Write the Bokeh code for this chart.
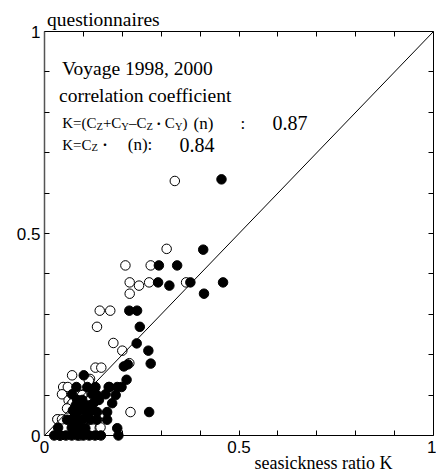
from bokeh.plotting import figure
from bokeh.models import FixedTicker, LinearAxis, Label, Range1d, ColumnDataSource
from bokeh.embed import file_html
from bokeh.resources import INLINE

# ---------------- data ----------------
# open circles: K = (Cz + Cy - Cz*Cy)(n)
open_x = [0.335, 0.314, 0.208, 0.273, 0.219, 0.243, 0.269, 0.364, 0.219,
          0.142, 0.169, 0.135, 0.177, 0.200, 0.131, 0.146, 0.218, 0.071,
          0.117, 0.221, 0.114, 0.048, 0.060, 0.045, 0.100, 0.097, 0.062,
          0.067, 0.080, 0.072, 0.087, 0.100, 0.118, 0.034, 0.080, 0.114,
          0.127, 0.033, 0.045, 0.075, 0.142, 0.144, 0.040, 0.090, 0.058]
open_y = [0.630, 0.462, 0.421, 0.421, 0.379, 0.371, 0.379, 0.379, 0.351,
          0.309, 0.309, 0.269, 0.229, 0.210, 0.168, 0.168, 0.179, 0.149,
          0.140, 0.058, 0.136, 0.120, 0.120, 0.102, 0.102, 0.100, 0.087,
          0.074, 0.070, 0.080, 0.054, 0.060, 0.045, 0.040, 0.040, 0.040,
          0.040, 0.040, 0.040, 0.019, 0.019, 0.020, 0.000, 0.000, 0.067]

# filled circles: K = Cz(n)
fill_x = [0.455, 0.408, 0.294, 0.341, 0.292, 0.321, 0.375, 0.459, 0.410,
          0.218, 0.238, 0.245, 0.237, 0.267, 0.273, 0.269, 0.204, 0.214,
          0.211, 0.101, 0.167, 0.198,
          0.082, 0.110, 0.131, 0.165, 0.187,
          0.071, 0.123, 0.135, 0.157, 0.183,
          0.084, 0.097, 0.126, 0.140, 0.174,
          0.080, 0.093, 0.100, 0.107, 0.112, 0.117,
          0.073, 0.083, 0.090, 0.113, 0.135, 0.161, 0.107, 0.120,
          0.058, 0.071, 0.083, 0.098, 0.118, 0.135, 0.161, 0.110,
          0.035, 0.070, 0.083, 0.105, 0.187, 0.092,
          0.025, 0.040, 0.055, 0.070, 0.085, 0.100, 0.115, 0.130,
          0.145, 0.190]
fill_y = [0.634, 0.460, 0.421, 0.421, 0.379, 0.371, 0.379, 0.379, 0.351,
          0.309, 0.309, 0.269, 0.228, 0.210, 0.178, 0.058, 0.171, 0.176,
          0.138, 0.149, 0.120, 0.120,
          0.120, 0.120, 0.120, 0.120, 0.120,
          0.102, 0.102, 0.100, 0.102, 0.100,
          0.088, 0.088, 0.080, 0.088, 0.080,
          0.074, 0.074, 0.074, 0.074, 0.074, 0.074,
          0.062, 0.062, 0.062, 0.058, 0.058, 0.058, 0.062, 0.062,
          0.039, 0.040, 0.040, 0.040, 0.039, 0.039, 0.039, 0.050,
          0.019, 0.019, 0.019, 0.018, 0.018, 0.019,
          0.000, 0.000, 0.000, 0.000, 0.000, 0.000, 0.000, 0.000,
          0.000, 0.000]

# reference line K(questionnaire) = K(seasickness ratio)
ref_x = [0, 1]
ref_y = [0, 1]

major_ticks = [0, 0.5, 1]
minor_ticks = [0.1, 0.2, 0.3, 0.4, 0.6, 0.7, 0.8, 0.9]
all_ticks = [0.1, 0.2, 0.3, 0.4, 0.5, 0.6, 0.7, 0.8, 0.9]
tick_labels = {0: "0", 0.5: "0.5", 1: "1"}

# ---------------- layout (pixels of the canvas) ----------------
CW, CH = 436, 473              # canvas
FX0, FX1 = 44, 433             # plot box left / right
FY0, FY1 = 31, 435             # plot box top / bottom
SX = FX1 - FX0
SY = FY1 - FY0

def dx(px):
    return (px - FX0) / SX

def dy(py):
    return (FY1 - py) / SY

p = figure(width=CW, height=CH, min_border=0,
           x_range=Range1d(dx(0), dx(CW)), y_range=Range1d(dy(CH), dy(0)),
           output_backend="svg", toolbar_location=None, tools="")
p.grid.visible = False
p.outline_line_color = None
p.background_fill_color = "white"
p.border_fill_color = "white"

def style_axis(ax, loc, labels=True):
    ax.fixed_location = loc
    ax.bounds = (0, 1)
    if labels:
        ax.ticker = FixedTicker(ticks=major_ticks, minor_ticks=minor_ticks)
        ax.major_label_overrides = tick_labels
        ax.major_label_text_font = "Liberation Sans"
        ax.major_label_text_font_size = "17px"
        ax.major_label_text_color = "black"
        ax.major_label_standoff = 4
    else:
        ax.ticker = FixedTicker(ticks=[], minor_ticks=all_ticks)
    ax.major_tick_in = 5
    ax.major_tick_out = 0
    ax.minor_tick_in = 5
    ax.minor_tick_out = 0
    ax.axis_line_color = "black"
    ax.axis_line_width = 1
    ax.major_tick_line_color = "black"
    ax.minor_tick_line_color = "black"

style_axis(p.xaxis[0], 0)
style_axis(p.yaxis[0], 0)
p.xaxis[0].major_label_standoff = 5
p.yaxis[0].axis_line_color = "#555555"
p.yaxis[0].axis_line_width = 1.5
top_ax = LinearAxis()
right_ax = LinearAxis()
style_axis(top_ax, 1, labels=False)
style_axis(right_ax, 1, labels=False)
p.add_layout(top_ax, "above")
p.add_layout(right_ax, "right")

src_open = ColumnDataSource(dict(x=open_x, y=open_y))
src_fill = ColumnDataSource(dict(x=fill_x, y=fill_y))
p.scatter("x", "y", source=src_open, size=9.5, marker="circle",
          fill_color="white", line_color="black", line_width=1)
p.scatter("x", "y", source=src_fill, size=9.5, marker="circle",
          fill_color="black", line_color="black", line_width=1)
p.line(ref_x, ref_y, line_color="black", line_width=1)

# ---------------- texts ----------------
SERIF = "Liberation Serif"
CJK = "Noto Sans CJK JP"
# Times-compatible advance widths (em) used to chain text pieces
ADV = {"K": .722, "=": .564, "(": .333, ")": .333, "C": .667, "+": .564,
       "\u2013": .5, "Y": .722, "Z": .611, "n": .5, ":": .278}

def put(text, px, py, size, font=SERIF):
    p.add_layout(Label(x=dx(px), y=dy(py), text=text, text_font=font,
                       text_font_size=f"{size}px", text_color="black",
                       text_baseline="alphabetic", text_align="left"))

def chain(pieces, px, py):
    for txt, size, shift, gap, font in pieces:
        px += gap
        put(txt, px, py + shift, size, font)
        if font == CJK:
            px += size
        else:
            px += sum(ADV.get(c, .5) for c in txt) * size
    return px

put("questionnaires", 46.5, 18.5, 19.5)
put("seasickness ratio K", 254, 462, 18)
put("Voyage 1998, 2000", 61.5, 67.5, 19.5)
put("correlation coefficient", 58.5, 95, 19.5)

b3 = 122.7
chain([("K=(C", 15, 0, 0, SERIF), ("Z", 10.5, 3, 0, SERIF),
       ("+C", 15, 0, 0, SERIF), ("Y", 10.5, 3, 0, SERIF),
       ("\u2013C", 15, 0, 0, SERIF), ("Z", 10.5, 3, 0, SERIF),
       ("\u30fb", 12, 0, 0, CJK), ("C", 15, 0, 0, SERIF),
       ("Y", 10.5, 3, 0, SERIF), (")", 15, 0, 0, SERIF)], 61.7, b3)
put("(n)", 193, b3, 17)
put(":", 240, b3, 17)
put("0.87", 272, b3, 20)

b4 = 144
chain([("K=C", 15, 0, 0, SERIF), ("Z", 10.5, 3, 0, SERIF),
       ("\u30fb", 12, 0, 1, CJK)], 61.7, b4)
put("(n):", 127.3, b4, 17)
put("0.84", 179, b4, 20)

open("out.html", "w").write(file_html(p, INLINE))
